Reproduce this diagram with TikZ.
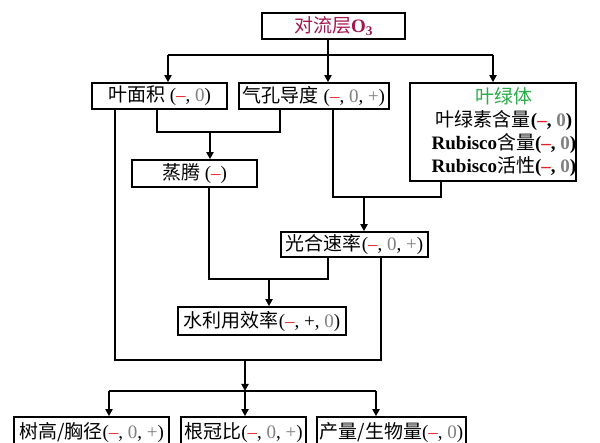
\documentclass[tikz,border=0pt]{standalone}
\usepackage{fontspec}
\setmainfont{Liberation Serif}
\newfontfamily\zhfont{Noto Sans CJK SC}
\usetikzlibrary{arrows.meta}
\definecolor{titlered}{RGB}{163,22,80}
\definecolor{chlgreen}{RGB}{40,172,72}
\definecolor{negred}{RGB}{232,30,36}
\definecolor{zgray}{RGB}{128,128,128}
\newcommand{\zh}[1]{{\zhfont #1}}
\newcommand{\mn}{\textcolor{negred}{–}}
\newcommand{\zo}{\textcolor{zgray}{0}}
\newcommand{\pp}{\textcolor{zgray}{+}}
\begin{document}
\begin{tikzpicture}[x=1pt,y=-1pt,
  font=\fontsize{19}{23}\selectfont,
  box/.style={draw,line width=1.6pt,inner sep=0pt},
  ln/.style={line width=1.8pt},
  arr/.style={ln,-{Triangle[length=7pt,width=7pt]}}]
\clip (0,0) rectangle (600,443);
\fill[white] (0,0) rectangle (600,443);

% boxes
\node[box,minimum width=143pt,minimum height=26pt] (top) at (333.5,26)
  {\textcolor{titlered}{\zh{对流层}\textbf{O\textsubscript{3}}}};
\node[box,minimum width=135pt,minimum height=26pt] (leaf) at (159.5,96)
  {\zh{叶面积} (\mn, \zo)};
\node[box,minimum width=150pt,minimum height=26pt] (stoma) at (314,96)
  {\zh{气孔导度} (\mn, \zo, \pp)};
\node[box,minimum width=166pt,minimum height=98pt] (chl) at (493,132) {};
\node[align=center,inner sep=0pt] (chlt) at (504,132)
  {\textcolor{chlgreen}{\zh{叶绿体}}\\
   \zh{叶绿素含量}\textbf{(\mn, \zo)}\\
   \textbf{Rubisco}\zh{含量}\textbf{(\mn, \zo)}\\
   \textbf{Rubisco}\zh{活性}\textbf{(\mn, \zo)}};
\node[box,minimum width=125pt,minimum height=27pt] (trans) at (194.5,173.5)
  {\zh{蒸腾} (\mn)};
\node[box,minimum width=147pt,minimum height=25pt] (photo) at (354.5,244.5)
  {\zh{光合速率}(\mn, \zo, \pp)};
\node[box,minimum width=168pt,minimum height=28pt] (wue) at (262,321)
  {\zh{水利用效率}(\mn, +, \zo)};
\node[box,minimum width=155pt,minimum height=32pt] (b1) at (91.5,433)
  {\zh{树高/胸径}(\mn, \zo, \pp)};
\node[box,minimum width=125pt,minimum height=32pt] (b2) at (243.5,433)
  {\zh{根冠比}(\mn, \zo, \pp)};
\node[box,minimum width=149pt,minimum height=32pt] (b3) at (391.5,433)
  {\zh{产量/生物量}(\mn, \zo)};

% junction coordinates
\coordinate (t0) at (328,55);
\coordinate (t1) at (168,55);
\coordinate (t3) at (493,55);
\coordinate (e1) at (157,132);
\coordinate (e2) at (280,132);
\coordinate (e0) at (210,132);
\coordinate (p1) at (333,197);
\coordinate (p2) at (441,197);
\coordinate (p0) at (364,197);
\coordinate (w1) at (209,279);
\coordinate (w2) at (328,279);
\coordinate (w0) at (269,279);
\coordinate (g1) at (115,360);
\coordinate (g2) at (381,360);
\coordinate (g0) at (245,360);
\coordinate (h0) at (245,391);
\coordinate (h1) at (109,391);
\coordinate (h3) at (376,391);

% top fan-out
\draw[ln] (top.south -| t0) -- (t0);
\draw[ln] (t1) -- (t3);
\draw[arr] (t1) -- (t1 |- leaf.north);
\draw[arr] (t0) -- (t0 |- stoma.north);
\draw[arr] (t3) -- (t3 |- chl.north);

% to transpiration
\draw[ln] (e1 |- leaf.south) -- (e1) -- (e2) -- (e2 |- stoma.south);
\draw[arr] (e0) -- (e0 |- trans.north);

% to photosynthesis
\draw[ln] (p1 |- stoma.south) -- (p1) -- (p2) -- (p2 |- chl.south);
\draw[arr] (p0) -- (p0 |- photo.north);

% to WUE
\draw[ln] (w1 |- trans.south) -- (w1) -- (w2) -- (w2 |- photo.south);
\draw[arr] (w0) -- (w0 |- wue.north);

% to growth
\draw[ln] (g1 |- leaf.south) -- (g1) -- (g2) -- (g2 |- photo.south);
\draw[arr] (g0) -- (h0);
\draw[ln] (h1) -- (h3);
\draw[arr] (h1) -- (h1 |- b1.north);
\draw[arr] (h0) -- (h0 |- b2.north);
\draw[arr] (h3) -- (h3 |- b3.north);
\end{tikzpicture}
\end{document}
